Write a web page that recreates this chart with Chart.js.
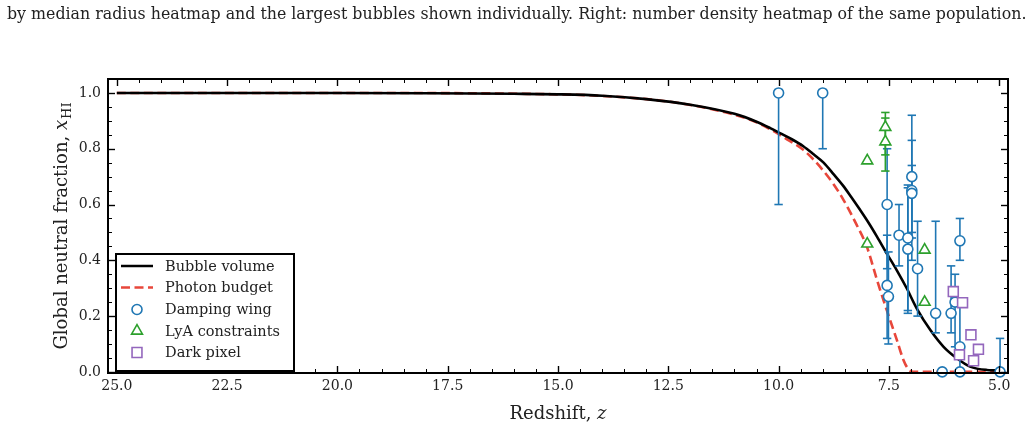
<!DOCTYPE html>
<html><head><meta charset="utf-8">
<script src="https://cdn.jsdelivr.net/npm/chart.js@4.4.1/dist/chart.umd.min.js"></script>
<style>
html,body{margin:0;padding:0;background:#fff;width:1033px;height:430px;overflow:hidden;}
#cap{position:absolute;left:7px;top:6px;white-space:nowrap;font-family:"DejaVu Serif";font-size:15px;line-height:1;color:#222;}
#wrap{position:absolute;left:0;top:0;width:1033px;height:430px;}
</style></head><body>
<div id="wrap"><canvas id="c" width="1033" height="430"></canvas></div>
<div id="cap">by median radius heatmap and the largest bubbles shown individually. Right: number density heatmap of the same population.</div>
<script>
// ---- data ----
const X_TICKS = [25, 22.5, 20, 17.5, 15, 12.5, 10, 7.5, 5];
const Y_TICKS = [0, 0.2, 0.4, 0.6, 0.8, 1.0];

const bubbleZ = [25, 22, 20, 18, 16, 15, 14, 13, 12, 11, 10.5, 10.19, 9.97, 9.7, 9.44, 9.2, 8.98, 8.75, 8.53, 8.35, 8.15, 7.95, 7.77, 7.55, 7.32, 7.09, 6.87, 6.56, 6.26, 5.96, 5.66, 5.28, 4.9];
const bubbleV = [1.0, 1.0, 1.0, 0.999, 0.997, 0.995, 0.99, 0.978, 0.958, 0.925, 0.897, 0.874, 0.856, 0.834, 0.809, 0.779, 0.75, 0.708, 0.666, 0.626, 0.58, 0.532, 0.485, 0.425, 0.364, 0.298, 0.228, 0.15, 0.09, 0.049, 0.019, 0.007, 0.005];

const photonZ = [25, 20, 15, 13, 12, 11, 10.5, 10.19, 9.8, 9.44, 9.2, 8.98, 8.75, 8.53, 8.23, 8.0, 7.77, 7.55, 7.32, 7.17, 7.06, 6.95, 6.5, 6.0, 5.5, 5.0, 4.9];
const photonV = [1.0, 1.0, 0.995, 0.978, 0.957, 0.922, 0.895, 0.87, 0.833, 0.796, 0.76, 0.72, 0.672, 0.617, 0.527, 0.449, 0.33, 0.222, 0.115, 0.043, 0.01, 0.0, 0.0, 0.0, 0.0, 0.0, 0.0];

const dwZ  = [10.0, 9.0, 7.54, 7.54, 7.51, 7.27, 7.07, 7.07, 6.98, 6.98, 6.98, 6.85, 6.44, 6.09, 6.0, 5.89, 5.89, 6.29, 5.89, 4.98];
const dwV  = [1.0, 1.0, 0.60, 0.31, 0.27, 0.49, 0.48, 0.44, 0.70, 0.65, 0.64, 0.37, 0.21, 0.21, 0.25, 0.47, 0.09, 0.0, 0.0, 0.0];
const dwLo = [0.60, 0.80, 0.37, 0.12, 0.10, 0.38, 0.22, 0.21, 0.48, 0.40, 0.50, 0.20, 0.14, 0.14, 0.09, 0.40, 0.0, 0.0, 0.0, 0.0];
const dwHi = [1.0, 1.0, 0.80, 0.49, 0.43, 0.60, 0.67, 0.66, 0.92, 0.83, 0.74, 0.54, 0.54, 0.38, 0.35, 0.55, 0.25, 0.0, 0.0, 0.12];

const lyaZ  = [7.99, 7.99, 7.58, 7.58, 6.69, 6.69];
const lyaV  = [0.757, 0.459, 0.877, 0.825, 0.437, 0.25];
const lyaLo = [0.757, 0.459, 0.778, 0.72, 0.437, 0.25];
const lyaHi = [0.757, 0.459, 0.93, 0.91, 0.437, 0.25];

const dpZ = [6.04, 5.83, 5.64, 5.47, 5.90, 5.58];
const dpV = [0.288, 0.248, 0.133, 0.081, 0.061, 0.04];

const SERIES = ["Bubble volume", "Photon budget", "Damping wing", "LyA constraints", "Dark pixel"];
const COLORS = ["#000000", "#e8473b", "#1f77b4", "#2ca02c", "#9467bd"];
const DASH = [9, 4.5];

// ---- caption fit ----
(function(){
  const cap = document.getElementById('cap');
  const w = cap.getBoundingClientRect().width;
  cap.style.fontSize = (15 * 1020 / w) + 'px';
})();

const SERIF = '"DejaVu Serif", serif';
const pts = (xs, ys) => xs.map((x, i) => ({x: x, y: ys[i]}));

const errPlugin = {
  id: 'err',
  beforeDatasetDraw(chart, args) {
    const ds = chart.data.datasets[args.index];
    if (!ds.errLo) return;
    const xs = chart.scales.x, ys = chart.scales.y, ctx = chart.ctx;
    ctx.save();
    ctx.setLineDash([]);
    ctx.strokeStyle = ds.borderColor;
    ctx.lineWidth = 1.6;
    ds.data.forEach((p, i) => {
      const lo = ds.errLo[i], hi = ds.errHi[i];
      if (lo === hi) return;
      const px = xs.getPixelForValue(p.x);
      const yl = ys.getPixelForValue(lo), yh = ys.getPixelForValue(hi);
      ctx.beginPath(); ctx.moveTo(px, yl); ctx.lineTo(px, yh); ctx.stroke();
      const cw = 4.2;
      if (lo < p.y) { ctx.beginPath(); ctx.moveTo(px - cw, yl); ctx.lineTo(px + cw, yl); ctx.stroke(); }
      if (hi > p.y) { ctx.beginPath(); ctx.moveTo(px - cw, yh); ctx.lineTo(px + cw, yh); ctx.stroke(); }
    });
    ctx.restore();
  }
};

function drawFrame(chart) {
  const ctx = chart.ctx, a = chart.chartArea, xs = chart.scales.x, ys = chart.scales.y;
  ctx.save();
  ctx.setLineDash([]);
  ctx.globalAlpha = 1;
  ctx.strokeStyle = '#000000';
  ctx.lineCap = 'butt';
  for (let k = 0; k <= 40; k++) {
    const v = 5 + k * 0.5;
    const major = X_TICKS.some(t => Math.abs(t - v) < 1e-6);
    const L = major ? 7 : 4;
    const px = Math.round(xs.getPixelForValue(v)) + 0.5;
    ctx.lineWidth = major ? 1.4 : 1.0;
    ctx.beginPath();
    ctx.moveTo(px, a.bottom);
    ctx.lineTo(px, a.bottom - L);
    ctx.stroke();
    ctx.beginPath();
    ctx.moveTo(px, a.top);
    ctx.lineTo(px, a.top + L);
    ctx.stroke();
  }
  for (let k = 0; k <= 21; k++) {
    const v = k * 0.05;
    const major = Y_TICKS.some(t => Math.abs(t - v) < 1e-6);
    const L = major ? 7 : 4;
    const py = Math.round(ys.getPixelForValue(v)) + 0.5;
    if (py < a.top + 1) continue;
    ctx.lineWidth = major ? 1.4 : 1.0;
    ctx.beginPath();
    ctx.moveTo(a.left, py);
    ctx.lineTo(a.left + L, py);
    ctx.stroke();
    ctx.beginPath();
    ctx.moveTo(a.right, py);
    ctx.lineTo(a.right - L, py);
    ctx.stroke();
  }
  ctx.lineWidth = 2;
  ctx.strokeRect(a.left, a.top, a.right - a.left, a.bottom - a.top);
  ctx.restore();
}

const framePlugin = {
  id: 'frame',
  afterDraw(chart) {
    drawFrame(chart);
    const ctx = chart.ctx, a = chart.chartArea;
    ctx.save();
    ctx.fillStyle = '#222';
    // x title
    const t1 = 'Redshift, ';
    ctx.font = '18px ' + SERIF;
    const w1 = ctx.measureText(t1).width;
    ctx.font = 'italic 18px ' + SERIF;
    const w2 = ctx.measureText('z').width;
    let x0 = (a.left + a.right) / 2 - (w1 + w2) / 2;
    ctx.textBaseline = 'alphabetic';
    ctx.textAlign = 'left';
    ctx.font = '18px ' + SERIF; ctx.fillText(t1, x0, 419);
    ctx.font = 'italic 18px ' + SERIF; ctx.fillText('z', x0 + w1, 419);
    // y title
    ctx.translate(67, (a.top + a.bottom) / 2);
    ctx.rotate(-Math.PI / 2);
    const y1 = 'Global neutral fraction, ';
    ctx.font = '18px ' + SERIF; const wy1 = ctx.measureText(y1).width;
    ctx.font = 'italic 18px ' + SERIF; const wy2 = ctx.measureText('x').width;
    ctx.font = '13px ' + SERIF; const wy3 = ctx.measureText('HI').width;
    let s = -(wy1 + wy2 + wy3 + 1) / 2;
    ctx.font = '18px ' + SERIF; ctx.fillText(y1, s, 0);
    ctx.font = 'italic 18px ' + SERIF; ctx.fillText('x', s + wy1, 0);
    ctx.font = '13px ' + SERIF; ctx.fillText('HI', s + wy1 + wy2 + 1, 4);
    ctx.restore();

    // legend
    ctx.save();
    const bx = 116, by = 254, bw = 178, bh = 117;
    ctx.fillStyle = '#fff';
    ctx.fillRect(bx, by, bw, bh);
    ctx.strokeStyle = '#000'; ctx.lineWidth = 2;
    ctx.strokeRect(bx, by, bw, bh);
    const rows = [266, 287.5, 309.5, 331, 352.5];
    ctx.font = '14.5px ' + SERIF;
    ctx.textBaseline = 'middle';
    rows.forEach((ry, i) => {
      ctx.strokeStyle = COLORS[i];
      if (i === 0) {
        ctx.lineWidth = 2.5; ctx.setLineDash([]);
        ctx.beginPath(); ctx.moveTo(121, ry); ctx.lineTo(153, ry); ctx.stroke();
      } else if (i === 1) {
        ctx.lineWidth = 2.5; ctx.setLineDash(DASH);
        ctx.beginPath(); ctx.moveTo(121, ry); ctx.lineTo(153, ry); ctx.stroke();
        ctx.setLineDash([]);
      } else {
        ctx.lineWidth = 1.6;
        ctx.fillStyle = '#fff';
        const ds = chart.data.datasets[i];
        Chart.helpers.drawPoint(ctx, {pointStyle: ds.pointStyle, radius: ds.pointRadius, borderWidth: 1.6, rotation: 0}, 137, ry);
      }
      ctx.fillStyle = '#222';
      ctx.fillText(SERIES[i], 165, ry + 1);
    });
    ctx.restore();
  }
};

new Chart(document.getElementById('c'), {
  type: 'scatter',
  data: {
    datasets: [
      { label: SERIES[0], data: pts(bubbleZ, bubbleV), showLine: true, borderColor: COLORS[0], borderWidth: 2.6,
        pointRadius: 0, cubicInterpolationMode: 'monotone', order: 4 },
      { label: SERIES[1], data: pts(photonZ, photonV), showLine: true, borderColor: COLORS[1], borderWidth: 2.6,
        borderDash: DASH, pointRadius: 0, cubicInterpolationMode: 'monotone', order: 5 },
      { label: SERIES[2], data: pts(dwZ, dwV), errLo: dwLo, errHi: dwHi, borderColor: COLORS[2], backgroundColor: '#fff',
        pointStyle: 'circle', pointRadius: 5, borderWidth: 1.6, clip: false, order: 3 },
      { label: SERIES[3], data: pts(lyaZ, lyaV), errLo: lyaLo, errHi: lyaHi, borderColor: COLORS[3], backgroundColor: '#fff',
        pointStyle: 'triangle', pointRadius: 6.3, borderWidth: 1.6, clip: false, order: 2 },
      { label: SERIES[4], data: pts(dpZ, dpV), borderColor: COLORS[4], backgroundColor: '#fff',
        pointStyle: 'rect', pointRadius: 7, borderWidth: 1.6, clip: false, order: 1 }
    ]
  },
  options: {
    responsive: false,
    animation: false,
    layout: { padding: { top: 79, right: 25, left: 0, bottom: 0 } },
    plugins: { legend: { display: false }, tooltip: { enabled: false } },
    scales: {
      x: {
        type: 'linear', reverse: true, min: 4.8, max: 25.2,
        afterBuildTicks: s => { s.ticks = X_TICKS.map(v => ({value: v})); },
        afterFit: s => { s.height = 57; },
        grid: { display: false, drawTicks: false },
        border: { display: false },
        ticks: { autoSkip: false, maxRotation: 0, padding: 5, color: '#222',
                 font: { family: SERIF, size: 14 }, callback: v => Number(v).toFixed(1) }
      },
      y: {
        type: 'linear', min: -0.004, max: 1.05,
        afterBuildTicks: s => { s.ticks = Y_TICKS.map(v => ({value: v})); },
        afterFit: s => { s.width = 108; },
        grid: { display: false, drawTicks: false },
        border: { display: false },
        ticks: { autoSkip: false, padding: 7, color: '#222',
                 font: { family: SERIF, size: 14 }, callback: v => Number(v).toFixed(1) }
      }
    }
  },
  plugins: [errPlugin, framePlugin]
});
</script>
</body></html>
